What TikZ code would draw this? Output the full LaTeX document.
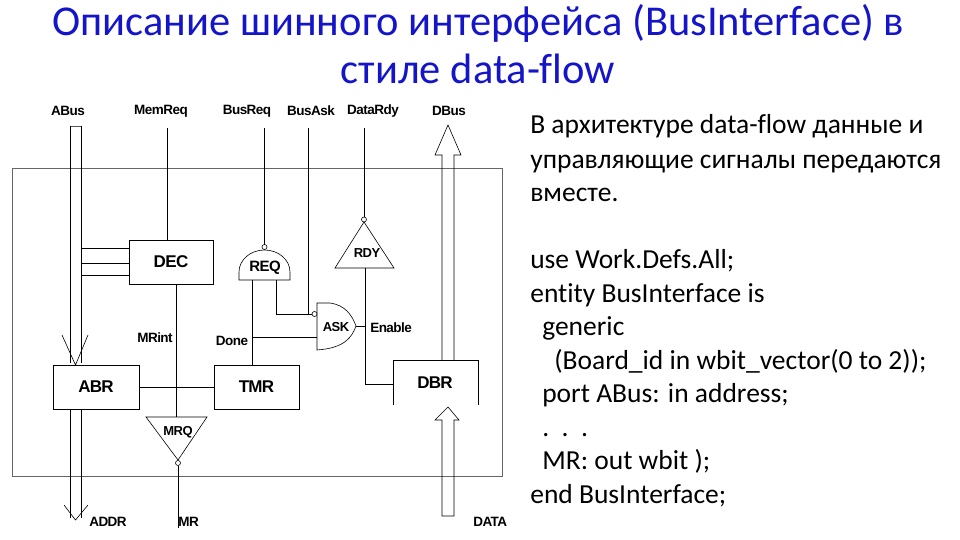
\documentclass[tikz,border=0pt]{standalone}
\usepackage{fontspec}
\setmainfont{Carlito}[Ligatures=NoCommon]
\newfontfamily\arial{Liberation Sans}[LetterSpace=-4]
\begin{document}
\begin{tikzpicture}[x=1pt,y=-1pt,line width=0.6pt,
  lbl/.style={font=\arial\fontsize{13.5}{14}\selectfont\bfseries,inner sep=0pt},
  blk/.style={draw,font=\arial\fontsize{17}{17}\selectfont\bfseries,inner sep=0pt},
  sml/.style={font=\arial\fontsize{13}{13}\selectfont\bfseries,inner sep=0pt},
  txt/.style={anchor=base west,font=\fontsize{27.5}{30}\selectfont,inner sep=0pt}]
\useasboundingbox (0,0) rectangle (960,540);
\definecolor{ttl}{RGB}{20,20,200}
\node[font=\fontsize{42.5}{48}\selectfont,text=ttl,align=center,inner sep=0pt] (title) at (478,44) {Описание шинного интерфейса (BusInterface) в\\стиле data-flow};
% outer box
\draw[gray!80!black] (12,168) rectangle (502,476);
% labels
\node[lbl] (lABus) at (68,111) {ABus};
\node[lbl] (lMem) at (161,111) {MemReq};
\node[lbl] (lBR) at (247,111) {BusReq};
\node[lbl] (lBA) at (311,111) {BusAsk};
\node[lbl] (lDR) at (373,111) {DataRdy};
\node[lbl] (lDB) at (449,111) {DBus};
\node[lbl,anchor=west] (lADDR) at (89,522) {ADDR};
\node[lbl,anchor=west] (lMR) at (178,522) {MR};
\node[lbl,anchor=west] (lDATA) at (473,522) {DATA};
\node[lbl] (lMRint) at (155,338) {MRint};
\node[lbl] (lDone) at (232,341) {Done};
\node[lbl,anchor=west] (lEn) at (370,328) {Enable};
% blocks
\node[blk,minimum width=84pt,minimum height=44pt] (DEC) at (171,262) {DEC};
\node[blk,minimum width=86pt,minimum height=44pt] (ABR) at (96,387) {ABR};
\node[blk,minimum width=85pt,minimum height=44pt] (TMR) at (256.5,387) {TMR};
\node[font=\arial\fontsize{17}{17}\selectfont\bfseries] (DBR) at (435,383) {DBR};
\draw (393,405) -- (393,360) -- (478,360) -- (478,405);
% ABus
\draw[gray!70!black] (70,126) -- (81,126);
\draw (70,126) -- (70,363);
\draw (81,126) -- (81,363);
\draw (62,335) -- (75.5,365) -- (88,335);
\draw (70,409) -- (70,518); \draw (81,409) -- (81,518);
\draw (64,505) -- (75.5,520) -- (88,505);
% DEC inputs
\foreach \yy in {248,263,275} \draw (81,\yy) -- (DEC.west |- 0,\yy);
\draw (167,128) -- (167,240);
% MRint
\draw (176,284) -- (176,417);
\draw (146,417) -- (207,417) -- (178,460) -- cycle;
\node[sml] (MRQ) at (178,432) {MRQ};
\draw (178,463) circle (2.5);
\draw (178,465.5) -- (178,528);
% ABR-TMR
\draw (ABR.east) -- (TMR.west);
% REQ gate
\draw (239,280) -- (239,272) arc[start angle=180,end angle=360,x radius=25.5,y radius=22] -- (290,280) -- cycle;
\node[font=\arial\fontsize{15}{15}\selectfont\bfseries] (REQ) at (265,268) {REQ};
\draw (264.5,247) circle (2.5);
\draw (264.5,128) -- (264.5,244.5);
\draw (252,280) -- (252,365);
\draw (252,337) -- (317,337);
\draw (276,280) -- (276,314) -- (312,314);
\draw (308,128) -- (308,314);
% ASK gate
\draw (317,303) -- (330,303) .. controls (345,305) and (352,315) .. (356,326) .. controls (352,337) and (345,348) .. (317,350) -- cycle;
\draw[fill=white] (314.5,314) circle (2.5);
\node[sml] (ASK) at (336,327) {ASK};
\draw (356,326) -- (365,326);
% RDY
\draw (364,222) -- (394,268) -- (335,268) -- cycle;
\node[sml] (RDY) at (367,253) {RDY};
\draw (364,219.5) circle (2.5);
\draw (364,128) -- (364,217);
\draw (365,268) -- (365,384) -- (393,384);
% DBus
\draw (442,360) -- (442,155) -- (435,155) -- (448,125) -- (461,155) -- (454,155) -- (454,360);
\draw (442,516) -- (442,420) -- (435,420) -- (448,407) -- (459,420) -- (454,420) -- (454,516) -- cycle;
% text
\node[txt] (t1) at (530,134) {В архитектуре data-flow данные и};
\node[txt] (t2) at (530,168) {управляющие сигналы передаются};
\node[txt] (t3) at (530,201) {вместе.};
\node[txt] (t4) at (530,268) {use Work.Defs.All;};
\node[txt] (t5) at (530,302) {entity BusInterface is};
\node[txt] (t6) at (542,335) {generic};
\node[txt] (t7) at (554,369) {(Board\_id in wbit\_vector(0 to 2));};
\node[txt] (t8) at (542,402) {port ABus: in address;};
\node[txt] (t9) at (542,436) {.\ \ .\ \ .};
\node[txt] (t10) at (542,469) {MR: out wbit );};
\node[txt] (t11) at (530,503) {end BusInterface;};
\end{tikzpicture}
\end{document}
